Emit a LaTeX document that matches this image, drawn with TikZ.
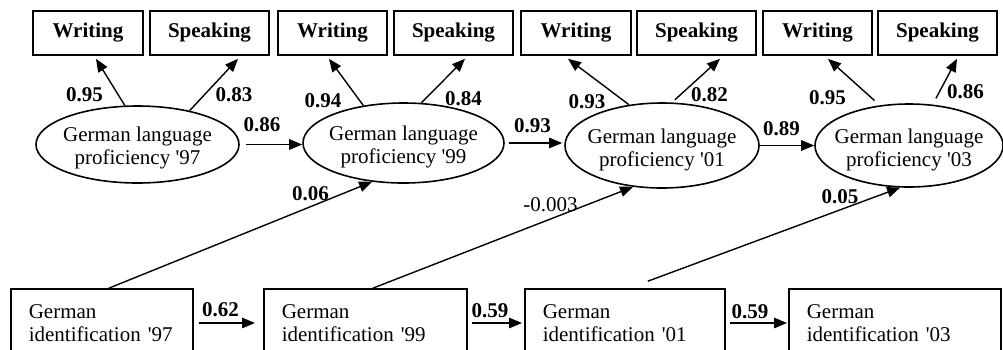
\documentclass[tikz,border=0pt]{standalone}
\usepackage{fontspec}
\setmainfont{Liberation Serif}
\usetikzlibrary{arrows.meta,shapes.geometric}
\begin{document}
\begin{tikzpicture}[x=1pt,y=-1pt,
  every node/.style={font=\fontsize{21}{23}\selectfont},
  obs/.style={draw,line width=1.6pt,minimum height=44pt,inner sep=0pt,font=\fontsize{21}{23}\selectfont\bfseries},
  lat/.style={draw,ellipse,line width=1.6pt,inner sep=0pt},
  lattext/.style={align=center,inner sep=0pt},
  idbox/.style={draw,line width=1.6pt,minimum height=68pt,inner xsep=18pt,align=left,anchor=west},
  arr/.style={line width=1.4pt,-{Triangle[length=13pt,width=10.5pt]}},
  coef/.style={font=\fontsize{21}{23}\selectfont\bfseries,inner sep=0pt},
  coefr/.style={inner sep=0pt},
]
\useasboundingbox (0,0) rectangle (1003,349);
\clip (0,0) rectangle (1003,349);

% observed indicators
\node[obs,minimum width=110pt] (w1) at (88,33) {Writing};
\node[obs,minimum width=119pt] (s1) at (209.5,33) {Speaking};
\node[obs,minimum width=109pt] (w2) at (332.5,33) {Writing};
\node[obs,minimum width=119pt] (s2) at (453.5,33) {Speaking};
\node[obs,minimum width=110pt] (w3) at (576,33) {Writing};
\node[obs,minimum width=119pt] (s3) at (696.5,33) {Speaking};
\node[obs,minimum width=109pt] (w4) at (817.5,33) {Writing};
\node[obs,minimum width=119pt] (s4) at (937.5,33) {Speaking};

% latent variables
\node[lat,minimum width=203pt,minimum height=77pt] (e1) at (137.5,144.5) {};
\node[lat,minimum width=201pt,minimum height=80pt] (e2) at (403.5,143) {};
\node[lat,minimum width=194pt,minimum height=85pt] (e3) at (662,145.5) {};
\node[lat,minimum width=188pt,minimum height=83pt] (e4) at (909,145.5) {};
\node[lattext] (t1) at ([yshift=-3pt]e1.center) {German language\\proficiency \textquotesingle97};
\node[lattext] (t2) at ([yshift=-4pt]e2.center) {German language\\proficiency \textquotesingle99};
\node[lattext] (t3) at ([yshift=-4pt]e3.center) {German language\\proficiency \textquotesingle01};
\node[lattext] (t4) at ([yshift=-4pt]e4.center) {German language\\proficiency \textquotesingle03};

% identification boxes
\node[idbox,text width=146pt] (b1) at (10,323) {German\\identification \textquotesingle97};
\node[idbox,text width=167pt] (b2) at (263,323) {German\\identification \textquotesingle99};
\node[idbox,text width=164pt] (b3) at (524,323) {German\\identification \textquotesingle01};
\node[idbox,text width=176pt] (b4) at (788,323) {German\\identification \textquotesingle03};

% loadings
\draw[arr] (e1.108) -- ([shift={(8,3)}]w1.south);
\draw[arr] (e1.33) -- ([shift={(28.5,3)}]s1.south);
\draw[arr] (e2.137) -- ([shift={(-3.5,3)}]w2.south);
\draw[arr] (e2.66) -- ([shift={(11.5,3)}]s2.south);
\draw[arr] (e3.129) -- ([shift={(-8,3)}]w3.south);
\draw[arr,shorten <=4pt] (e3.77) -- ([shift={(23.5,3)}]s3.south);
\draw[arr,shorten <=7pt] (e4.126) -- ([shift={(10.5,3)}]w4.south);
\draw[arr,shorten <=7pt] (e4.60) -- ([shift={(19.5,3)}]s4.south);

% stability paths (latent)
\draw[arr,shorten <=6pt] (e1.east) -- (e1.east -| e2.west);
\draw[arr,shorten <=4pt,shorten >=2pt] (e2.east) -- (e2.east -| e3.west);
\draw[arr] (e3.east) -- (e3.east -| e4.west);

% stability paths (identification)
\draw[arr,shorten <=5pt,shorten >=8pt] (b1.east) -- (b2.west);
\draw[arr,shorten <=4pt,shorten >=2pt] (b2.east) -- (b3.west);
\draw[arr,shorten <=4pt,shorten >=1pt] (b3.east) -- (b4.west);

% cross-lagged paths
\draw[arr] ([shift={(7,0)}]b1.north) -- (e2.231);
\draw[arr] ([shift={(7.5,0)}]b2.north) -- (e3.235);
\draw[arr] ([shift={(23,-7)}]b3.north) -- (e4.258);

% coefficients
\node[coef] (c1) at (84.5,95) {0.95};
\node[coef] (c2) at (234,95) {0.83};
\node[coef] (c3) at (262,124.5) {0.86};
\node[coef] (c4) at (323,101) {0.94};
\node[coef] (c5) at (463.5,98.5) {0.84};
\node[coef] (c6) at (532.5,126) {0.93};
\node[coef] (c7) at (587,101.5) {0.93};
\node[coef] (c8) at (709.5,95) {0.82};
\node[coef] (c9) at (781.5,128.5) {0.89};
\node[coef] (c10) at (827.5,97.5) {0.95};
\node[coef] (c11) at (965.5,92) {0.86};
\node[coef] (c12) at (310.5,194) {0.06};
\node[coefr] (c13) at (550.5,205) {-0.003};
\node[coef] (c14) at (840,196.5) {0.05};
\node[coef] (c15) at (220.5,310) {0.62};
\node[coef] (c16) at (490,311) {0.59};
\node[coef] (c17) at (750,312) {0.59};
\end{tikzpicture}
\end{document}
